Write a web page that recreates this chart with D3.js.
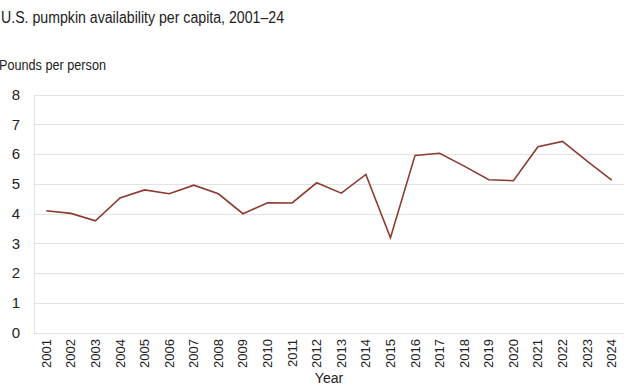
<!DOCTYPE html>
<html>
<head>
<meta charset="utf-8">
<script src="https://cdn.jsdelivr.net/npm/d3@7"></script>
<style>
  body { margin: 0; background: #fff; }
  svg text { font-family: "Liberation Sans", "DejaVu Sans", sans-serif; fill: #222; }
</style>
</head>
<body>
<div id="chart"></div>
<script>
// data
var years = ["2001","2002","2003","2004","2005","2006","2007","2008","2009","2010","2011","2012",
             "2013","2014","2015","2016","2017","2018","2019","2020","2021","2022","2023","2024"];
var pounds = [4.10, 4.01, 3.76, 4.53, 4.80, 4.67, 4.96, 4.67, 4.00, 4.37, 4.36, 5.04,
              4.69, 5.32, 3.19, 5.96, 6.03, 5.60, 5.14, 5.11, 6.25, 6.43, 5.77, 5.13];
var yTicks = [0, 1, 2, 3, 4, 5, 6, 7, 8];

var width = 627, height = 387;
var plotLeft = 34, plotRight = 624, plotTop = 94.7, plotBottom = 332.7;

var svg = d3.select("#chart").append("svg")
    .attr("width", width)
    .attr("height", height);

var x = d3.scaleBand()
    .domain(years)
    .range([plotLeft, plotRight]);

var y = d3.scaleLinear()
    .domain([0, 8])
    .range([plotBottom, plotTop]);

// gridlines
svg.append("g")
    .selectAll("line")
    .data(yTicks)
    .enter().append("line")
    .attr("x1", plotLeft)
    .attr("x2", plotRight)
    .attr("y1", function(d) { return Math.round(y(d)) + 0.5; })
    .attr("y2", function(d) { return Math.round(y(d)) + 0.5; })
    .attr("stroke", "#e3e3e3")
    .attr("stroke-width", 1);

// left axis line
svg.append("line")
    .attr("x1", plotLeft + 0.5).attr("x2", plotLeft + 0.5)
    .attr("y1", plotTop).attr("y2", plotBottom)
    .attr("stroke", "#e3e3e3");

// y tick labels
svg.append("g")
    .selectAll("text")
    .data(yTicks)
    .enter().append("text")
    .attr("x", 16)
    .attr("y", function(d) { return y(d); })
    .attr("dy", "0.35em")
    .attr("text-anchor", "middle")
    .style("font-size", "15px")
    .text(function(d) { return d; });

// x tick labels, rotated
svg.append("g")
    .selectAll("text")
    .data(years)
    .enter().append("text")
    .attr("transform", function(d) {
        return "translate(" + (x(d) + x.bandwidth() / 2 + 4.5) + ",339) rotate(-90)";
    })
    .attr("text-anchor", "end")
    .style("font-size", "13px")
    .text(function(d) { return d; });

// line
var line = d3.line()
    .x(function(d, i) { return x(years[i]) + x.bandwidth() / 2; })
    .y(function(d) { return y(d); });

svg.append("path")
    .datum(pounds)
    .attr("d", line)
    .attr("fill", "none")
    .attr("stroke", "#8e3b2f")
    .attr("stroke-width", 1.6)
    .attr("stroke-linejoin", "miter");

// titles
svg.append("text")
    .attr("x", 1)
    .attr("y", 23)
    .attr("textLength", 283)
    .attr("lengthAdjust", "spacingAndGlyphs")
    .style("font-size", "16px")
    .text("U.S. pumpkin availability per capita, 2001–24");

svg.append("text")
    .attr("x", -1)
    .attr("y", 70)
    .attr("textLength", 107)
    .attr("lengthAdjust", "spacingAndGlyphs")
    .style("font-size", "14px")
    .text("Pounds per person");

svg.append("text")
    .attr("x", (plotLeft + plotRight) / 2)
    .attr("y", 383)
    .attr("text-anchor", "middle")
    .style("font-size", "14px")
    .text("Year");
</script>
</body>
</html>
